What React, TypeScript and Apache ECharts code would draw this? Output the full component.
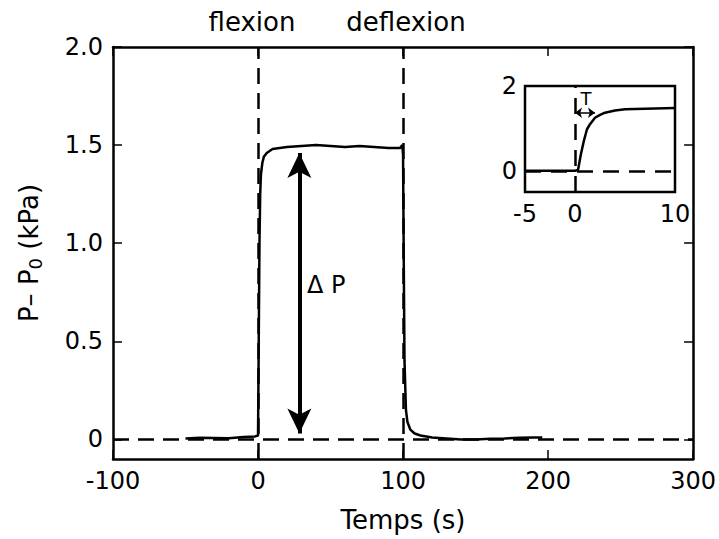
import React, { useEffect, useRef } from "react";
import * as echarts from "echarts";

// Main trace: time (s) and pressure difference (kPa)
const mainTime = [-50, -40, -30, -20, -10, -2, 0, 0.5, 1, 1.5, 2, 3, 4, 6, 8, 10, 15, 20, 30, 40, 50, 60, 70, 80, 90, 95, 98, 99.5, 100, 100.5, 101, 102, 103, 105, 108, 112, 116, 120, 130, 140, 150, 160, 170, 180, 190, 196];
const mainPressure = [0.005, 0.008, 0.007, 0.006, 0.012, 0.015, 0.02, 0.5, 1.0, 1.25, 1.35, 1.41, 1.44, 1.46, 1.47, 1.48, 1.485, 1.49, 1.495, 1.5, 1.495, 1.49, 1.495, 1.49, 1.485, 1.485, 1.485, 1.5, 1.45, 0.9, 0.4, 0.15, 0.09, 0.05, 0.03, 0.02, 0.015, 0.01, 0.005, 0.0, 0.0, 0.003, 0.005, 0.008, 0.01, 0.01];

// Inset trace (zoom on the rise)
const insetTime = [-5, -3, -1, 0, 0.3, 0.6, 0.9, 1.2, 1.5, 2, 2.5, 3, 4, 5, 6, 8, 10];
const insetPressure = [0, 0, 0, 0, 0.02, 0.4, 0.72, 0.98, 1.1, 1.25, 1.32, 1.37, 1.42, 1.45, 1.46, 1.47, 1.48];

// Tick labels
const mainYTicks = [0, 0.5, 1.0, 1.5, 2.0];
const insetXTicks = [-5, 0, 10];
const insetYTicks = [0, 2];

// Annotations
const eventLabels = ["flexion", "deflexion"];
const deltaPArrow = { t: 28.5, from: 1.46, to: 0.03 };
const tauArrow = { y: 1.37, from: 0, to: 2 };

const FONT = "DejaVu Sans";
const FS = 24;
const FS_TITLE = 26;

export default function App() {
  const ref = useRef<HTMLDivElement>(null);
  useEffect(() => {
    if (!ref.current) return;
    document.body.style.margin = "0";
    const chart = echarts.init(ref.current, undefined, { renderer: "svg" });
    const black = "#000";
    const dashed = { type: [16, 9] as any, color: black, width: 2.5 };
    const fmtY = (v: number) => (v === 0 ? "0" : v.toFixed(1));
    const option: any = {
      animation: false,
      backgroundColor: "#fff",
      textStyle: { fontFamily: FONT },
      grid: [
        { left: 113, right: 22, top: 47, bottom: 80, containLabel: false },
        { left: 525, top: 86, width: 150, height: 106, show: true, backgroundColor: "#fff", borderColor: black, borderWidth: 2.5 },
      ],
      xAxis: [
        {
          type: "value", gridIndex: 0, min: -100, max: 300, interval: 100, position: "bottom",
          axisLine: { show: true, onZero: false, lineStyle: { color: black, width: 2.5 } },
          axisTick: { show: true, inside: true, length: 9, lineStyle: { color: black, width: 1.5 } },
          axisLabel: { show: true, color: black, fontSize: FS, fontFamily: FONT, margin: 10 },
          splitLine: { show: false },
          name: "Temps (s)", nameLocation: "middle", nameGap: 48,
          nameTextStyle: { color: black, fontSize: FS_TITLE, fontFamily: FONT },
        },
        {
          type: "value", gridIndex: 0, min: -100, max: 300, interval: 100, position: "top",
          axisLine: { show: true, onZero: false, lineStyle: { color: black, width: 2.5 } },
          axisTick: { show: true, inside: true, length: 9, lineStyle: { color: black, width: 1.5 } },
          axisLabel: { show: false },
          splitLine: { show: false },
        },
        {
          type: "value", gridIndex: 1, min: -5, max: 10,
          axisLine: { show: false },
          axisTick: { show: false },
          axisLabel: { show: true, color: black, fontSize: FS, fontFamily: FONT, margin: 10, customValues: insetXTicks },
          splitLine: { show: false },
        },
      ],
      yAxis: [
        {
          type: "value", gridIndex: 0, min: -0.1, max: 2.0, position: "left",
          axisLine: { show: true, onZero: false, lineStyle: { color: black, width: 2.5 } },
          axisTick: { show: true, inside: true, length: 9, customValues: mainYTicks, lineStyle: { color: black, width: 1.5 } },
          axisLabel: { show: true, color: black, fontSize: FS, fontFamily: FONT, margin: 10, customValues: mainYTicks, formatter: fmtY },
          splitLine: { show: false },
          name: "P– P{s|0} (kPa)", nameLocation: "middle", nameRotate: 90, nameGap: 69,
          nameTextStyle: {
            color: black, fontSize: FS_TITLE, fontFamily: FONT,
            rich: { s: { fontSize: 18, fontFamily: FONT, color: black, padding: [12, 0, 0, 0] } },
          },
        },
        {
          type: "value", gridIndex: 0, min: -0.1, max: 2.0, position: "right",
          axisLine: { show: true, onZero: false, lineStyle: { color: black, width: 2.5 } },
          axisTick: { show: true, inside: true, length: 9, customValues: mainYTicks, lineStyle: { color: black, width: 1.5 } },
          axisLabel: { show: false },
          splitLine: { show: false },
        },
        {
          type: "value", gridIndex: 1, min: -0.5, max: 2,
          axisLine: { show: false },
          axisTick: { show: false },
          axisLabel: { show: true, color: black, fontSize: FS, fontFamily: FONT, margin: 8, customValues: insetYTicks },
          splitLine: { show: false },
        },
      ],
      series: [
        {
          type: "line", xAxisIndex: 0, yAxisIndex: 0, showSymbol: false, silent: true,
          data: mainTime.map((t, i) => [t, mainPressure[i]]),
          lineStyle: { color: black, width: 2.5 },
          z: 3,
          markLine: {
            silent: true, symbol: ["none", "none"], label: { show: false }, animation: false,
            lineStyle: dashed,
            data: [{ xAxis: 0 }, { xAxis: 100 }, { yAxis: 0 }],
          },
        },
        {
          type: "line", xAxisIndex: 0, yAxisIndex: 0, showSymbol: false, silent: true, data: [],
          markLine: {
            silent: true, symbol: ["arrow", "arrow"], symbolSize: [18, 25], label: { show: false }, animation: false,
            lineStyle: { color: black, width: 4, type: "solid" },
            data: [[{ coord: [deltaPArrow.t, deltaPArrow.from] }, { coord: [deltaPArrow.t, deltaPArrow.to] }]],
          },
        },
        {
          type: "line", xAxisIndex: 2, yAxisIndex: 2, showSymbol: false, silent: true,
          data: insetTime.map((t, i) => [t, insetPressure[i]]),
          lineStyle: { color: black, width: 2.5 },
          z: 3,
          markLine: {
            silent: true, symbol: ["none", "none"], label: { show: false }, animation: false,
            lineStyle: { type: [16, 10] as any, color: black, width: 2.5 },
            data: [{ xAxis: 0 }, { yAxis: 0 }],
          },
        },
        {
          type: "line", xAxisIndex: 2, yAxisIndex: 2, showSymbol: false, silent: true, data: [],
          markLine: {
            silent: true, symbol: ["arrow", "arrow"], symbolSize: [8, 7], label: { show: false }, animation: false,
            lineStyle: { color: black, width: 1.5, type: "solid" },
            data: [[{ coord: [tauArrow.from, tauArrow.y] }, { coord: [tauArrow.to, tauArrow.y] }]],
          },
        },
      ],
      graphic: [
        {
          type: "text", x: 252, y: 22,
          style: { text: eventLabels[0], fill: black, font: `${FS_TITLE}px "${FONT}"`, textAlign: "center", textVerticalAlign: "middle" },
        },
        {
          type: "text", x: 406, y: 22,
          style: { text: eventLabels[1], fill: black, font: `${FS_TITLE}px "${FONT}"`, textAlign: "center", textVerticalAlign: "middle" },
        },
        {
          type: "text", x: 307, y: 285,
          style: { text: "Δ P", fill: black, font: `${FS}px "${FONT}"`, textAlign: "left", textVerticalAlign: "middle" },
        },
        {
          type: "text", x: 586, y: 98,
          style: { text: "T", fill: black, font: `18px "${FONT}"`, textAlign: "center", textVerticalAlign: "middle" },
        },
      ],
    };
    chart.setOption(option);
    return () => chart.dispose();
  }, []);
  return <div ref={ref} style={{ width: 719, height: 539 }} />;
}
